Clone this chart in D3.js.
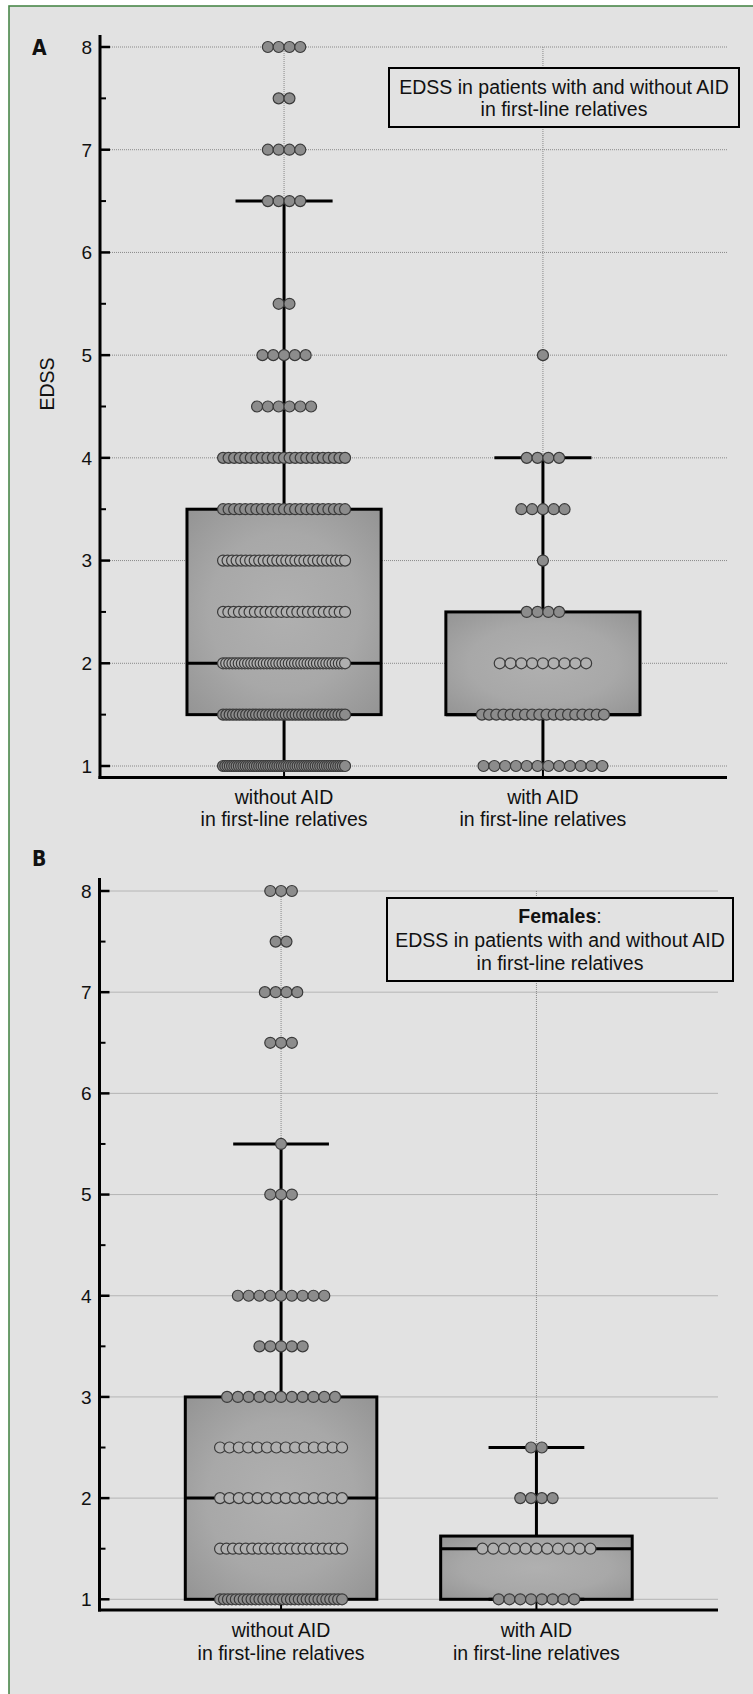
<!DOCTYPE html>
<html>
<head>
<meta charset="utf-8">
<script src="https://cdn.jsdelivr.net/npm/d3@7"></script>
<style>
  body { margin: 0; background: #fff; }
  svg { display: block; }
  text { font-family: "Liberation Sans", Arial, "Helvetica Neue", sans-serif; fill: #111; }
</style>
</head>
<body>
<svg id="chart" width="753" height="1694"></svg>
<script>
// ---- data ----------------------------------------------------------------
const groupNames = ["without AID", "with AID"];
const groupSub = "in first-line relatives";
const yTicks = [1, 2, 3, 4, 5, 6, 7, 8];
const yMinorTicks = [1.5, 2.5, 3.5, 4.5, 5.5, 6.5, 7.5];
const edssLevels = [1, 1.5, 2, 2.5, 3, 3.5, 4, 4.5, 5, 5.5, 6, 6.5, 7, 7.5, 8];

// number of patients at each EDSS level (same order as edssLevels)
const countsAllWithout = [55, 38, 40, 24, 28, 23, 23, 6, 5, 2, 0, 4, 4, 2, 4];
const countsAllWith    = [12, 18, 9, 4, 1, 5, 4, 0, 1, 0, 0, 0, 0, 0, 0];
const countsFemWithout = [32, 20, 14, 14, 11, 5, 9, 0, 3, 1, 0, 3, 4, 2, 3];
const countsFemWith    = [8, 11, 4, 2, 0, 0, 0, 0, 0, 0, 0, 0, 0, 0, 0];

// box summaries: [lower whisker, Q1, median, Q3, upper whisker]
const boxAllWithout = [1, 1.5, 2, 3.5, 6.5];
const boxAllWith    = [1, 1.5, 1.5, 2.5, 4];
const boxFemWithout = [1, 1, 2, 3, 5.5];
const boxFemWith    = [1, 1, 1.5, 1.625, 2.5];

const titleAll = ["EDSS in patients with and without AID", "in first-line relatives"];
const titleFem = ["Females", "EDSS in patients with and without AID", "in first-line relatives"];

// ---- drawing -------------------------------------------------------------
const svg = d3.select("#chart");
const BG = "#e2e2e2";

// panel background with green frame
svg.append("rect").attr("x", 9).attr("y", 6).attr("width", 800).attr("height", 1750)
  .attr("fill", BG).attr("stroke", "#4a884a").attr("stroke-width", 1.6);

const defs = svg.append("defs");
const grad = defs.append("radialGradient").attr("id", "boxFill")
  .attr("cx", "50%").attr("cy", "50%").attr("r", "70%");
grad.append("stop").attr("offset", "0%").attr("stop-color", "#b0b0b0");
grad.append("stop").attr("offset", "55%").attr("stop-color", "#a8a8a8");
grad.append("stop").attr("offset", "100%").attr("stop-color", "#949494");

function drawPanel(cfg) {
  const g = svg.append("g");
  const y = d3.scaleLinear().domain([1, 8]).range([cfg.y1, cfg.y8]);
  const x = d3.scalePoint().domain(groupNames).range([cfg.left, cfg.right]).padding(0.711);
  const step = x.step();
  const boxW = step * 0.75, capW = step * 0.375;

  // horizontal dotted grid
  g.selectAll(".hgrid").data(yTicks).join("line")
    .attr("x1", cfg.left + 10).attr("x2", cfg.right)
    .attr("y1", d => y(d)).attr("y2", d => y(d))
    .attr("stroke", "#888").attr("stroke-width", 1).attr("stroke-dasharray", "1,1");
  // vertical dotted grid at each group
  g.selectAll(".vgrid").data(groupNames).join("line")
    .attr("x1", d => x(d)).attr("x2", d => x(d))
    .attr("y1", y(8)).attr("y2", cfg.axisY)
    .attr("stroke", "#888").attr("stroke-width", 1).attr("stroke-dasharray", "1,1");

  // legend box
  const lg = g.append("g");
  lg.append("rect").attr("x", cfg.legend.x).attr("y", cfg.legend.y)
    .attr("width", cfg.legend.w).attr("height", cfg.legend.h)
    .attr("fill", BG).attr("stroke", "#000").attr("stroke-width", 2);
  const lt = lg.append("text").attr("text-anchor", "middle").style("font-size", "19.5px");
  cfg.title.forEach((line, i) => {
    const ts = lt.append("tspan").attr("x", cfg.legend.x + cfg.legend.w / 2)
      .attr("y", cfg.legend.y + cfg.legend.base0 + i * cfg.legend.lh);
    if (cfg.bold && i === 0) {
      ts.append("tspan").style("font-weight", "bold").text(line);
      ts.append("tspan").text(":");
    } else ts.text(line);
  });

  const datasets = [
    { name: groupNames[0], counts: cfg.counts[0], box: cfg.boxes[0] },
    { name: groupNames[1], counts: cfg.counts[1], box: cfg.boxes[1] }
  ];

  datasets.forEach(ds => {
    const cx = x(ds.name);
    const [lo, q1, med, q3, hi] = ds.box;
    // box
    g.append("rect").attr("x", cx - boxW / 2).attr("y", y(q3))
      .attr("width", boxW).attr("height", y(q1) - y(q3))
      .attr("fill", "url(#boxFill)").attr("stroke", "#000").attr("stroke-width", 3);
    g.append("line").attr("x1", cx - boxW / 2).attr("x2", cx + boxW / 2)
      .attr("y1", y(med)).attr("y2", y(med)).attr("stroke", "#000").attr("stroke-width", 3);
    // whiskers and caps
    [[q3, hi], [lo, q1]].forEach(([a, b]) => {
      g.append("line").attr("x1", cx).attr("x2", cx).attr("y1", y(a)).attr("y2", y(b))
        .attr("stroke", "#000").attr("stroke-width", 3);
    });
    [lo, hi].forEach(v => {
      g.append("line").attr("x1", cx - capW / 2).attr("x2", cx + capW / 2)
        .attr("y1", y(v)).attr("y2", y(v)).attr("stroke", "#000").attr("stroke-width", 3);
    });
  });

  // x axis ticks at groups
  g.selectAll(".xtick").data(groupNames).join("line")
    .attr("x1", d => x(d)).attr("x2", d => x(d))
    .attr("y1", cfg.axisY).attr("y2", cfg.axisY - 8)
    .attr("stroke", "#000").attr("stroke-width", 2);

  // dots
  const r = 5.5, natural = 10.8, maxHalf = 61;
  datasets.forEach(ds => {
    const cx = x(ds.name);
    const [, q1, , q3] = ds.box;
    edssLevels.forEach((lvl, li) => {
      const n = ds.counts[li];
      if (!n) return;
      const sp = n > 1 ? Math.min(natural, 2 * maxHalf / (n - 1)) : 0;
      const pts = d3.range(n).map(i => ({ x: cx + (i - (n - 1) / 2) * sp, v: lvl }));
      const inside = lvl > q1 && lvl < q3;
      g.append("g").selectAll("circle").data(pts).join("circle")
        .attr("cx", d => d.x).attr("cy", d => y(d.v)).attr("r", r)
        .attr("fill", inside ? "#b0b0b0" : "#8c8c8c")
        .attr("stroke", "#3a3a3a").attr("stroke-width", 1.2);
    });
  });

  // y axis
  const ax = g.append("g");
  ax.append("line").attr("x1", cfg.left).attr("x2", cfg.left)
    .attr("y1", cfg.axisTop).attr("y2", cfg.axisY + 1.5)
    .attr("stroke", "#000").attr("stroke-width", 3);
  ax.selectAll(".maj").data(yTicks).join("line")
    .attr("x1", cfg.left).attr("x2", cfg.left + 10)
    .attr("y1", d => y(d)).attr("y2", d => y(d)).attr("stroke", "#000").attr("stroke-width", 2.5);
  ax.selectAll(".min").data(yMinorTicks).join("line")
    .attr("x1", cfg.left).attr("x2", cfg.left + 6)
    .attr("y1", d => y(d)).attr("y2", d => y(d)).attr("stroke", "#000").attr("stroke-width", 2);
  ax.selectAll(".lab").data(yTicks).join("text")
    .attr("x", cfg.left - 8).attr("y", d => y(d)).attr("dy", "0.36em")
    .attr("text-anchor", "end").style("font-size", "19px").text(d => d);
  // x axis
  ax.append("line").attr("x1", cfg.left - 1.5).attr("x2", cfg.right)
    .attr("y1", cfg.axisY).attr("y2", cfg.axisY).attr("stroke", "#000").attr("stroke-width", 3);

  // group labels
  groupNames.forEach(name => {
    const t = g.append("text").attr("text-anchor", "middle").style("font-size", "19.5px");
    t.append("tspan").attr("x", x(name)).attr("y", cfg.axisY + cfg.lab0).text(name);
    t.append("tspan").attr("x", x(name)).attr("y", cfg.axisY + cfg.lab0 + 22.6).text(groupSub);
  });

  // panel letter
  g.append("text").attr("x", 32).attr("y", cfg.letterY)
    .style("font-family", "'Liberation Sans Narrow','DejaVu Sans Condensed','DejaVu Sans',sans-serif")
    .style("font-stretch", "condensed")
    .style("font-weight", "bold").style("font-size", "21px").text(cfg.letter);

  if (cfg.yTitle) {
    g.append("text").attr("transform", `translate(54,${cfg.yTitleY}) rotate(-90)`)
      .attr("text-anchor", "middle").style("font-size", "19.5px").text(cfg.yTitle);
  }
}

drawPanel({
  letter: "A", letterY: 55, left: 100, right: 727, y8: 47, y1: 766, axisTop: 35, axisY: 777.5,
  counts: [countsAllWithout, countsAllWith], boxes: [boxAllWithout, boxAllWith],
  title: titleAll, bold: false,
  legend: { x: 389, y: 68, w: 350, h: 59, base0: 26, lh: 22 },
  lab0: 26, yTitle: "EDSS", yTitleY: 384
});

drawPanel({
  letter: "B", letterY: 866, left: 99.5, right: 718, y8: 891, y1: 1599.3, axisTop: 878, axisY: 1610,
  counts: [countsFemWithout, countsFemWith], boxes: [boxFemWithout, boxFemWith],
  title: titleFem, bold: true,
  legend: { x: 387, y: 898, w: 346, h: 83, base0: 25, lh: 23.6 },
  lab0: 27, yTitle: null
});
</script>
</body>
</html>
